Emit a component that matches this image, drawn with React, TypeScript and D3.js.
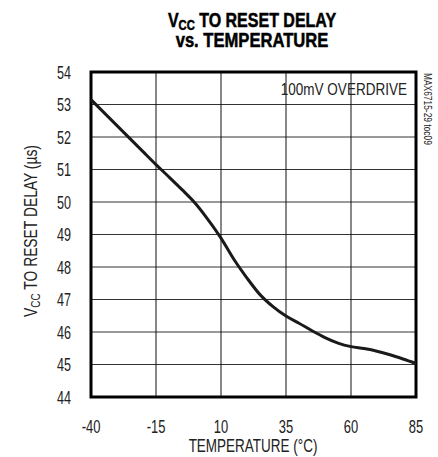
import * as d3 from "d3";
import { useEffect } from "react";

const temps = [-40, -35, -30, -25, -20, -15, -10, -5, 0, 5, 10, 15, 20, 25, 30, 35, 40, 45, 50, 55, 60, 65, 70, 75, 80, 85];
const delay = [53.15, 52.75, 52.35, 51.95, 51.55, 51.15, 50.77, 50.38, 49.97, 49.46, 48.89, 48.23, 47.66, 47.15, 46.78, 46.49, 46.27, 46.04, 45.83, 45.66, 45.55, 45.49, 45.41, 45.3, 45.17, 45.03];

const xTicks = [-40, -15, 10, 35, 60, 85];
const yTicks = [44, 45, 46, 47, 48, 49, 50, 51, 52, 53, 54];

const width = 438;
const height = 457;
const margin = { top: 72, right: 22, bottom: 60, left: 91 };
const font = "'Liberation Sans', Arial, sans-serif";

// condensed text: the original uses a narrow face, so squeeze a regular one
function Narrow({ x, y, sx, rotate = 0, anchor = "start", size, bold = false, children }: any) {
  return (
    <g transform={`translate(${x},${y}) rotate(${rotate}) scale(${sx},1)`}>
      <text
        x={0}
        y={0}
        textAnchor={anchor}
        fontFamily={font}
        fontSize={size}
        fontWeight={bold ? "bold" : "normal"}
        fill={bold ? "#000" : "#222"}
        stroke={bold ? "#000" : "none"}
        strokeWidth={bold ? 0.5 : 0}
      >
        {children}
      </text>
    </g>
  );
}

export default function App() {
  useEffect(() => {
    document.body.style.margin = "0";
  }, []);

  const x = d3.scaleLinear().domain([-40, 85]).range([margin.left, width - margin.right]);
  const y = d3.scaleLinear().domain([44, 54]).range([height - margin.bottom, margin.top]);

  const line = d3
    .line<number>()
    .x((_, i) => x(temps[i]))
    .y((d) => y(d))
    .curve(d3.curveMonotoneX);

  const x0 = x(-40);
  const x1 = x(85);
  const y0 = y(44);
  const y1 = y(54);

  return (
    <svg width={width} height={height} style={{ display: "block", background: "#fff" }}>
      {/* grid */}
      {yTicks.map((t) => (
        <line key={"gy" + t} x1={x0} x2={x1} y1={y(t)} y2={y(t)} stroke="#333" strokeWidth={1} />
      ))}
      {xTicks.map((t) => (
        <line key={"gx" + t} x1={x(t)} x2={x(t)} y1={y1} y2={y0} stroke="#111" strokeWidth={1} />
      ))}
      <rect x={x0} y={y1} width={x1 - x0} height={y0 - y1} fill="none" stroke="#000" strokeWidth={3} />

      {/* curve */}
      <path d={line(delay) ?? ""} fill="none" stroke="#1a1a1a" strokeWidth={3} strokeLinejoin="round" />

      {/* tick labels */}
      {yTicks.map((t) => (
        <Narrow key={"ty" + t} x={71} y={y(t) + 6.5} sx={0.7} anchor="end" size={18}>
          {t}
        </Narrow>
      ))}
      {xTicks.map((t) => (
        <Narrow key={"tx" + t} x={x(t)} y={433} sx={0.72} anchor="middle" size={18}>
          {t}
        </Narrow>
      ))}

      {/* axis titles */}
      <Narrow x={253} y={452} sx={0.75} anchor="middle" size={18}>
        TEMPERATURE (°C)
      </Narrow>
      <Narrow x={37} y={231} sx={0.77} rotate={-90} anchor="middle" size={18}>
        V<tspan fontSize={13} dy={3}>CC</tspan>
        <tspan dy={-3}> TO RESET DELAY (µs)</tspan>
      </Narrow>

      {/* title */}
      <Narrow x={252} y={27} sx={0.8} anchor="middle" size={20} bold>
        V<tspan fontSize={14} dy={3}>CC</tspan>
        <tspan dy={-3}> TO RESET DELAY</tspan>
      </Narrow>
      <Narrow x={252} y={47} sx={0.83} anchor="middle" size={20} bold>
        vs. TEMPERATURE
      </Narrow>

      {/* annotation */}
      <Narrow x={407} y={95} sx={0.82} anchor="end" size={16.5}>
        100mV OVERDRIVE
      </Narrow>
      <Narrow x={424} y={73} sx={0.8} rotate={90} size={10.5}>
        MAX6715-29 toc09
      </Narrow>
    </svg>
  );
}
